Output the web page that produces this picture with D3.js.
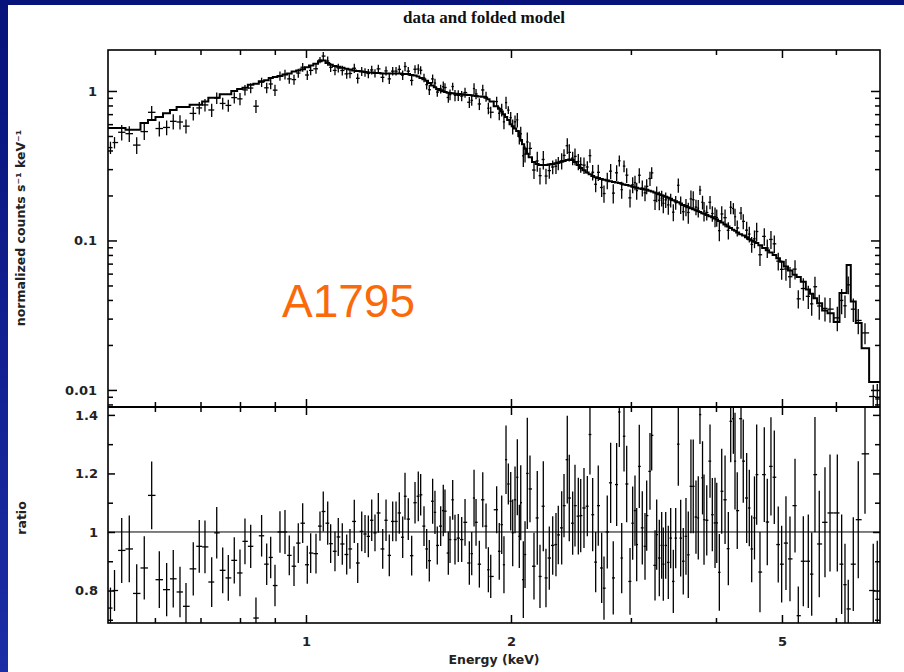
<!DOCTYPE html>
<html>
<head>
<meta charset="utf-8">
<script src="https://cdn.jsdelivr.net/npm/d3@7"></script>
<style>
body { margin: 0; background: #fff; }
svg { display: block; }
</style>
</head>
<body>
<svg width="904" height="672"></svg>
<script>
// bin centres (keV)
const energy = [
  0.5163, 0.5234, 0.5363, 0.5502, 0.5642, 0.5788, 0.5935, 0.6090, 0.6243, 0.6384,
  0.6531, 0.6665, 0.6831, 0.6971, 0.7107, 0.7270, 0.7395, 0.7546, 0.7690, 0.7847,
  0.8000, 0.8136, 0.8295, 0.8444, 0.8607, 0.8756, 0.8875, 0.9005, 0.9158, 0.9315,
  0.9451, 0.9603, 0.9743, 0.9889, 1.0044, 1.0160, 1.0344, 1.0485, 1.0602, 1.0762,
  1.0870, 1.1030, 1.1154, 1.1306, 1.1476, 1.1604, 1.1774, 1.1911, 1.2074, 1.2209,
  1.2347, 1.2489, 1.2628, 1.2771, 1.2962, 1.3108, 1.3254, 1.3407, 1.3559, 1.3710,
  1.3868, 1.3977, 1.4133, 1.4296, 1.4458, 1.4619, 1.4737, 1.4904, 1.5039, 1.5174,
  1.5346, 1.5467, 1.5589, 1.5769, 1.5908, 1.6000, 1.6181, 1.6275, 1.6422, 1.6551,
  1.6735, 1.6930, 1.7122, 1.7373, 1.7514, 1.7652, 1.7771, 1.7972, 1.8180, 1.8382,
  1.8527, 1.8677, 1.9055, 1.9223, 1.9383, 1.9531, 1.9667, 1.9821, 1.9982, 2.0117,
  2.0275, 2.0434, 2.0571, 2.0671, 2.0852, 2.0973, 2.1135, 2.1327, 2.1618, 2.1859,
  2.2061, 2.2310, 2.2512, 2.2767, 2.3030, 2.3286, 2.3469, 2.3741, 2.3927, 2.4194,
  2.4357, 2.4639, 2.4833, 2.5114, 2.5318, 2.5600, 2.5891, 2.6122, 2.6363, 2.6632,
  2.6866, 2.7177, 2.7391, 2.7696, 2.8016, 2.8263, 2.8590, 2.8849, 2.9082, 2.9311,
  2.9576, 2.9911, 3.0181, 3.0418, 3.0594, 3.0863, 3.1178, 3.1466, 3.1646, 3.2000,
  3.2185, 3.2550, 3.2734, 3.3025, 3.3292, 3.3475, 3.3748, 3.4044, 3.4320, 3.4626,
  3.4908, 3.5216, 3.5500, 3.5813, 3.6141, 3.6425, 3.6753, 3.7041, 3.7384, 3.7676,
  3.7894, 3.8221, 3.8415, 3.8770, 3.9202, 3.9509, 3.9872, 4.0104, 4.0457, 4.0784,
  4.1247, 4.1706, 4.2043, 4.2421, 4.2658, 4.2984, 4.3532, 4.3866, 4.4374, 4.4771,
  4.5134, 4.5563, 4.5901, 4.6416, 4.7098, 4.7576, 4.8172, 4.8719, 4.9375, 4.9947,
  5.0679, 5.1373, 5.2255, 5.2836, 5.3742, 5.4654, 5.5287, 5.5902, 5.6720, 5.7827,
  5.8820, 6.0287, 6.1180, 6.1874, 6.2562, 6.3637, 6.4714, 6.6206, 6.8077, 6.9010
];

// folded model (normalized counts s^-1 keV^-1)
const model = [
  0.565, 0.565, 0.565, 0.55, 0.55, 0.61, 0.64, 0.67, 0.71, 0.746,
  0.78, 0.78, 0.81, 0.81, 0.85, 0.9, 0.9, 0.95, 0.95, 1.0,
  1.03, 1.05, 1.1, 1.12, 1.16, 1.18, 1.22, 1.24, 1.26, 1.29,
  1.31, 1.35, 1.37, 1.4, 1.44, 1.48, 1.52, 1.58, 1.6, 1.54,
  1.5, 1.47, 1.45, 1.43, 1.41, 1.39, 1.37, 1.36, 1.35, 1.34,
  1.33, 1.33, 1.32, 1.32, 1.31, 1.31, 1.31, 1.31, 1.31, 1.31,
  1.3, 1.3, 1.3, 1.28, 1.27, 1.25, 1.22, 1.2, 1.17, 1.13,
  1.09, 1.06, 1.03, 1.01, 0.995, 0.985, 0.975, 0.97, 0.965, 0.96,
  0.955, 0.95, 0.945, 0.94, 0.935, 0.93, 0.925, 0.92, 0.915, 0.9,
  0.88, 0.85, 0.79, 0.76, 0.73, 0.7, 0.67, 0.64, 0.6, 0.58,
  0.56, 0.54, 0.5, 0.47, 0.44, 0.41, 0.38, 0.36, 0.335, 0.325,
  0.32, 0.32, 0.32, 0.322, 0.325, 0.328, 0.332, 0.336, 0.34, 0.345,
  0.348, 0.345, 0.335, 0.32, 0.305, 0.295, 0.285, 0.277, 0.27, 0.265,
  0.262, 0.258, 0.255, 0.252, 0.249, 0.246, 0.244, 0.242, 0.24, 0.237,
  0.235, 0.232, 0.229, 0.227, 0.225, 0.223, 0.221, 0.219, 0.218, 0.215,
  0.213, 0.209, 0.207, 0.204, 0.201, 0.199, 0.196, 0.193, 0.19, 0.186,
  0.183, 0.18, 0.177, 0.173, 0.17, 0.167, 0.164, 0.162, 0.159, 0.157,
  0.155, 0.152, 0.151, 0.148, 0.145, 0.143, 0.14, 0.138, 0.135, 0.132,
  0.128, 0.124, 0.121, 0.118, 0.116, 0.113, 0.11, 0.108, 0.105, 0.102,
  0.1, 0.098, 0.096, 0.093, 0.089, 0.086, 0.083, 0.08, 0.076, 0.072,
  0.067, 0.063, 0.059, 0.057, 0.053, 0.047, 0.044, 0.041, 0.038, 0.034,
  0.0326, 0.0285, 0.0446, 0.0446, 0.0685, 0.039, 0.028, 0.019, 0.0113, 0.0113
];

// data / model
const ratio = [
  0.74, 0.80, 0.937, 0.942, 0.79, 0.877, 1.125, 0.837, 0.803, 0.84,
  0.795, 0.746, 0.874, 0.951, 0.949, 0.829, 0.997, 0.869, 0.843, 0.903,
  0.86, 0.968, 0.951, 0.706, 0.987, 0.89, 0.913, 0.817, 1.0, 1.0,
  0.92, 0.883, 0.962, 1.03, 0.888, 0.928, 0.926, 1.02, 1.07, 1.03,
  0.96, 0.934, 0.983, 0.959, 0.923, 0.942, 1.036, 0.894, 1.002, 0.993,
  0.985, 1.04, 0.997, 1.065, 0.942, 1.04, 0.92, 1.036, 1.036, 1.065,
  0.982, 1.122, 1.044, 0.919, 1.1, 1.122, 1.127, 1.02, 0.942, 0.902,
  1.105, 1.067, 0.954, 1.02, 1.073, 1.071, 0.928, 0.974, 1.11, 0.974,
  0.979, 0.974, 1.033, 0.894, 0.926, 1.116, 1.033, 0.89, 1.11, 1.02,
  0.871, 0.848, 1.076, 0.934, 1.025, 0.888, 1.247, 1.164, 1.105, 0.997,
  1.11, 1.187, 0.985, 1.1, 0.837, 0.923, 1.2, 1.147, 0.883, 1.048,
  0.848, 1.088, 0.843, 0.911, 0.954, 0.957, 0.99, 1.014, 1.09, 1.247,
  1.116, 1.03, 1.09, 1.054, 1.056, 1.082, 1.088, 1.333, 1.059, 0.897,
  1.09, 0.877, 0.808, 1.0, 1.168, 0.843, 1.162, 1.41, 0.911, 1.327,
  1.164, 0.831, 1.03, 1.073, 0.957, 1.224, 1.014, 0.951, 1.056, 1.207,
  1.33, 0.886, 0.991, 0.911, 0.954, 0.89, 0.954, 0.896, 0.979, 0.831,
  0.979, 1.3, 0.979, 0.9, 0.985, 0.922, 1.156, 1.156, 1.051, 1.048,
  1.401, 1.185, 1.042, 1.04, 1.242, 1.059, 1.031, 1.031, 0.862, 1.139,
  1.11, 0.943, 1.378, 1.387, 1.242, 1.073, 1.387, 1.242, 1.116, 1.082,
  0.942, 1.048, 1.196, 0.863, 1.196, 1.034, 1.224, 1.187, 0.957, 0.89,
  0.962, 0.908, 1.09, 0.714, 0.9, 0.9, 0.856, 1.196, 0.959, 1.033,
  1.065, 1.065, 0.89, 0.82, 0.737, 0.89, 1.042, 1.267, 0.80, 0.77
];

// 1 sigma error on the ratio
const ratioErr = [
  0.07, 0.07, 0.111, 0.114, 0.10, 0.108, 0.116, 0.097, 0.091, 0.098,
  0.086, 0.08, 0.091, 0.09, 0.09, 0.085, 0.088, 0.078, 0.078, 0.079,
  0.08, 0.078, 0.074, 0.07, 0.071, 0.071, 0.071, 0.071, 0.071, 0.075,
  0.068, 0.068, 0.068, 0.068, 0.065, 0.068, 0.068, 0.05, 0.068, 0.074,
  0.066, 0.068, 0.065, 0.071, 0.068, 0.068, 0.074, 0.068, 0.068, 0.065,
  0.071, 0.071, 0.063, 0.068, 0.068, 0.071, 0.071, 0.068, 0.068, 0.071,
  0.071, 0.08, 0.071, 0.068, 0.071, 0.085, 0.071, 0.068, 0.068, 0.071,
  0.077, 0.074, 0.065, 0.068, 0.088, 0.074, 0.074, 0.08, 0.068, 0.085,
  0.082, 0.077, 0.08, 0.074, 0.074, 0.097, 0.08, 0.08, 0.094, 0.077,
  0.077, 0.074, 0.08, 0.097, 0.1, 0.097, 0.117, 0.07, 0.1, 0.114,
  0.114, 0.13, 0.108, 0.128, 0.131, 0.114, 0.19, 0.114, 0.114, 0.16,
  0.108, 0.154, 0.1, 0.108, 0.1, 0.108, 0.1, 0.125, 0.108, 0.15,
  0.148, 0.108, 0.14, 0.131, 0.125, 0.137, 0.103, 0.137, 0.125, 0.103,
  0.137, 0.12, 0.108, 0.125, 0.137, 0.125, 0.142, 0.12, 0.12, 0.12,
  0.131, 0.114, 0.125, 0.12, 0.125, 0.142, 0.125, 0.114, 0.12, 0.131,
  0.12, 0.12, 0.12, 0.131, 0.114, 0.125, 0.114, 0.125, 0.103, 0.108,
  0.103, 0.142, 0.131, 0.114, 0.131, 0.148, 0.16, 0.16, 0.125, 0.142,
  0.1, 0.125, 0.154, 0.12, 0.125, 0.125, 0.154, 0.137, 0.131, 0.145,
  0.151, 0.125, 0.14, 0.12, 0.165, 0.131, 0.137, 0.142, 0.154, 0.131,
  0.114, 0.142, 0.171, 0.137, 0.162, 0.148, 0.168, 0.16, 0.13, 0.131,
  0.16, 0.145, 0.16, 0.1, 0.154, 0.16, 0.142, 0.197, 0.182, 0.188,
  0.2, 0.2, 0.17, 0.14, 0.1, 0.16, 0.2, 0.205, 0.16, 0.2
];

// ticks
const xTicksMajor = [1, 2, 5];
const xTicksMinor = [0.6, 0.7, 0.8, 0.9, 3, 4, 6];
const yTopMajor = [0.01, 0.1, 1];
const yTopMinor = [0.008, 0.009, 0.02, 0.03, 0.04, 0.05, 0.06, 0.07, 0.08, 0.09,
                   0.2, 0.3, 0.4, 0.5, 0.6, 0.7, 0.8, 0.9];
const yBotMajor = [0.8, 1, 1.2, 1.4];
const yBotMinor = [0.7, 0.9, 1.1, 1.3];

// layout
const X0 = 108, X1 = 880, TOP = 50, MID = 407, BOT = 623;
const FONT = "DejaVu Sans, sans-serif";
const INK = "#222";

let svg = d3.select("svg");

// blue slide border
let grad = svg.append("defs").append("linearGradient")
  .attr("id", "slideBlue").attr("x1", 0).attr("y1", 0).attr("x2", 0).attr("y2", 1);
grad.append("stop").attr("offset", "0%").attr("stop-color", "#07127a");
grad.append("stop").attr("offset", "100%").attr("stop-color", "#1c2ea6");

svg.append("rect").attr("width", 904).attr("height", 672).attr("fill", "#fff");
svg.append("rect").attr("x", 0).attr("y", 0).attr("width", 904).attr("height", 5).attr("fill", "#07127a");
svg.append("rect").attr("x", 0).attr("y", 0).attr("width", 8).attr("height", 672).attr("fill", "url(#slideBlue)");

let x = d3.scaleLog().domain([0.512, 6.965]).range([X0, X1]);
let yTop = d3.scaleLog().domain([0.00769, 1.88]).range([MID, TOP]);
let yBot = d3.scaleLinear().domain([0.689, 1.427]).range([BOT, MID]);

// bin edges half way (in log) between neighbouring centres
const edges = energy.map((e, i) => i === 0 ? x.domain()[0] : Math.sqrt(energy[i - 1] * e));
edges.push(x.domain()[1]);

const bins = energy.map((e, i) => ({
  e: e,
  lo: edges[i],
  hi: edges[i + 1],
  m: model[i],
  r: ratio[i],
  re: ratioErr[i],
  d: model[i] * ratio[i],
  de: model[i] * ratioErr[i]
}));

let defs = svg.select("defs");
defs.append("clipPath").attr("id", "clipTop").append("rect")
  .attr("x", X0).attr("y", TOP).attr("width", X1 - X0).attr("height", MID - TOP);
defs.append("clipPath").attr("id", "clipBot").append("rect")
  .attr("x", X0).attr("y", MID).attr("width", X1 - X0).attr("height", BOT - MID);

// upper panel: data and folded model
let gTop = svg.append("g").attr("clip-path", "url(#clipTop)");

gTop.selectAll("line.xerr").data(bins).join("line")
  .attr("class", "xerr")
  .attr("x1", d => x(d.lo)).attr("x2", d => x(d.hi))
  .attr("y1", d => yTop(d.d)).attr("y2", d => yTop(d.d))
  .attr("stroke", "#000").attr("stroke-width", 1.3);

gTop.selectAll("line.yerr").data(bins).join("line")
  .attr("class", "yerr")
  .attr("x1", d => x(d.e)).attr("x2", d => x(d.e))
  .attr("y1", d => yTop(Math.max(d.d - d.de, 1e-4))).attr("y2", d => yTop(d.d + d.de))
  .attr("stroke", "#000").attr("stroke-width", 1.3);

let steps = bins.map(d => [d.lo, d.m]);
steps.push([edges[edges.length - 1], model[model.length - 1]]);

gTop.append("path")
  .datum(steps)
  .attr("fill", "none")
  .attr("stroke", "#000")
  .attr("stroke-width", 2)
  .attr("d", d3.line().x(d => x(d[0])).y(d => yTop(d[1])).curve(d3.curveStepAfter));

// lower panel: ratio
let gBot = svg.append("g").attr("clip-path", "url(#clipBot)");

gBot.append("line")
  .attr("x1", X0).attr("x2", X1)
  .attr("y1", yBot(1)).attr("y2", yBot(1))
  .attr("stroke", "#000").attr("stroke-width", 1);

gBot.selectAll("line.xerr").data(bins).join("line")
  .attr("class", "xerr")
  .attr("x1", d => x(d.lo)).attr("x2", d => x(d.hi))
  .attr("y1", d => yBot(d.r)).attr("y2", d => yBot(d.r))
  .attr("stroke", "#000").attr("stroke-width", 1.3);

gBot.selectAll("line.yerr").data(bins).join("line")
  .attr("class", "yerr")
  .attr("x1", d => x(d.e)).attr("x2", d => x(d.e))
  .attr("y1", d => yBot(d.r - d.re)).attr("y2", d => yBot(d.r + d.re))
  .attr("stroke", "#000").attr("stroke-width", 1.3);

// axes, ticks point inwards on every side
function styleAxis(g, labels) {
  g.select(".domain").remove();
  g.selectAll(".tick line").attr("stroke", "#000").attr("stroke-width", 1.5);
  g.selectAll(".tick text")
    .attr("font-family", FONT)
    .attr("font-weight", "bold")
    .attr("font-size", 13)
    .attr("fill", INK);
  if (!labels) g.selectAll(".tick text").remove();
}

function addAxis(axis, tx, ty, labels) {
  svg.append("g")
    .attr("transform", "translate(" + tx + "," + ty + ")")
    .call(axis)
    .call(g => styleAxis(g, labels));
}

// x ticks: top, middle (both panels), bottom
addAxis(d3.axisTop(x).tickValues(xTicksMajor).tickSize(-8), 0, TOP, false);
addAxis(d3.axisTop(x).tickValues(xTicksMinor).tickSize(-5), 0, TOP, false);
addAxis(d3.axisBottom(x).tickValues(xTicksMajor).tickSize(-8), 0, MID, false);
addAxis(d3.axisBottom(x).tickValues(xTicksMinor).tickSize(-5), 0, MID, false);
addAxis(d3.axisTop(x).tickValues(xTicksMajor).tickSize(-8), 0, MID, false);
addAxis(d3.axisTop(x).tickValues(xTicksMinor).tickSize(-5), 0, MID, false);
addAxis(d3.axisBottom(x).tickValues(xTicksMajor).tickSize(-8).tickPadding(14)
  .tickFormat(d3.format("")), 0, BOT, true);
addAxis(d3.axisBottom(x).tickValues(xTicksMinor).tickSize(-5), 0, BOT, false);

// y ticks upper panel
addAxis(d3.axisLeft(yTop).tickValues(yTopMajor).tickSize(-9).tickPadding(11)
  .tickFormat(d3.format("")), X0, 0, true);
addAxis(d3.axisLeft(yTop).tickValues(yTopMinor).tickSize(-5), X0, 0, false);
addAxis(d3.axisRight(yTop).tickValues(yTopMajor).tickSize(-9), X1, 0, false);
addAxis(d3.axisRight(yTop).tickValues(yTopMinor).tickSize(-5), X1, 0, false);

// y ticks lower panel
addAxis(d3.axisLeft(yBot).tickValues(yBotMajor).tickSize(-7).tickPadding(10)
  .tickFormat(d3.format("")), X0, 0, true);
addAxis(d3.axisLeft(yBot).tickValues(yBotMinor).tickSize(-5), X0, 0, false);
addAxis(d3.axisRight(yBot).tickValues(yBotMajor).tickSize(-7), X1, 0, false);
addAxis(d3.axisRight(yBot).tickValues(yBotMinor).tickSize(-5), X1, 0, false);

// frame
svg.append("rect")
  .attr("x", X0).attr("y", TOP)
  .attr("width", X1 - X0).attr("height", BOT - TOP)
  .attr("fill", "none").attr("stroke", "#000").attr("stroke-width", 1.6);
svg.append("line")
  .attr("x1", X0).attr("x2", X1).attr("y1", MID).attr("y2", MID)
  .attr("stroke", "#000").attr("stroke-width", 1.8);

// texts
svg.append("text")
  .attr("x", 484).attr("y", 23)
  .attr("text-anchor", "middle")
  .attr("font-family", "Liberation Serif, serif")
  .attr("font-weight", "bold")
  .attr("font-size", 17)
  .attr("fill", "#111")
  .text("data and folded model");

svg.append("text")
  .attr("x", (X0 + X1) / 2).attr("y", 664)
  .attr("text-anchor", "middle")
  .attr("font-family", FONT)
  .attr("font-weight", "bold")
  .attr("font-size", 12.5)
  .attr("fill", INK)
  .text("Energy (keV)");

svg.append("text")
  .attr("transform", "translate(25," + 228 + ") rotate(-90)")
  .attr("text-anchor", "middle")
  .attr("font-family", FONT)
  .attr("font-weight", "bold")
  .attr("font-size", 12.5)
  .attr("fill", INK)
  .text("normalized counts s\u207B\u00B9 keV\u207B\u00B9");

svg.append("text")
  .attr("transform", "translate(26," + 518 + ") rotate(-90)")
  .attr("text-anchor", "middle")
  .attr("font-family", FONT)
  .attr("font-weight", "bold")
  .attr("font-size", 12.5)
  .attr("fill", INK)
  .text("ratio");

svg.append("text")
  .attr("x", 282).attr("y", 317)
  .attr("font-family", "Liberation Sans, Arial, sans-serif")
  .attr("font-size", 46)
  .attr("fill", "#fa6a0a")
  .text("A1795");
</script>
</body>
</html>
